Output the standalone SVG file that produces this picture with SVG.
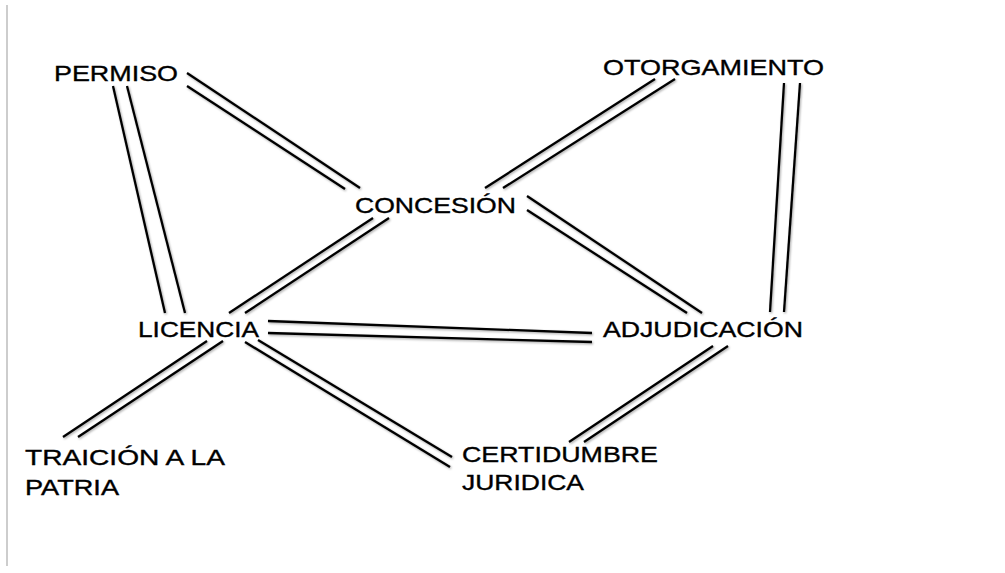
<svg xmlns="http://www.w3.org/2000/svg" width="1005" height="573" viewBox="0 0 1005 573">
<style>
.bg{fill:#ffffff}
.edge line{stroke:#000000;stroke-width:2.3;stroke-linecap:butt}
.lbl{font-family:"Liberation Sans",Arial,sans-serif;font-size:21.5px;fill:#000000;stroke:#000000;stroke-width:0.35}
</style>
<defs>
<filter id="sh" x="-10%" y="-10%" width="120%" height="120%">
<feDropShadow dx="1" dy="1.2" stdDeviation="1" flood-color="#000" flood-opacity="0.35"/>
</filter>
</defs>
<rect class="bg" x="0" y="0" width="1005" height="573"/>
<line x1="7" y1="5" x2="7" y2="566" stroke="#bdbdbd" stroke-width="1.5"/>
<g id="connectors" class="edge" filter="url(#sh)">
<line x1="113" y1="86" x2="165" y2="313"/>
<line x1="127" y1="86" x2="185" y2="313"/>
<line x1="187" y1="73" x2="360" y2="188"/>
<line x1="187" y1="86" x2="345" y2="189"/>
<line x1="655" y1="79" x2="485" y2="188"/>
<line x1="675" y1="79" x2="503" y2="188"/>
<line x1="784" y1="83" x2="770" y2="312"/>
<line x1="800" y1="83" x2="784" y2="312"/>
<line x1="373" y1="218" x2="229" y2="313"/>
<line x1="389" y1="218" x2="245" y2="313"/>
<line x1="527" y1="196" x2="702" y2="313"/>
<line x1="527" y1="210" x2="687" y2="313"/>
<line x1="268" y1="321" x2="592" y2="333"/>
<line x1="268" y1="333" x2="592" y2="342"/>
<line x1="207" y1="341" x2="63" y2="437"/>
<line x1="223" y1="341" x2="78" y2="437"/>
<line x1="245" y1="342" x2="450" y2="467"/>
<line x1="258" y1="340" x2="452" y2="457"/>
<line x1="713" y1="346" x2="569" y2="442"/>
<line x1="728" y1="346" x2="584" y2="442"/>
</g>
<g id="permiso"><text class="lbl" x="54" y="81" textLength="124" lengthAdjust="spacingAndGlyphs">PERMISO</text></g>
<g id="otorgamiento"><text class="lbl" x="603" y="75" textLength="221" lengthAdjust="spacingAndGlyphs">OTORGAMIENTO</text></g>
<g id="concesion"><text class="lbl" x="355" y="213" textLength="161" lengthAdjust="spacingAndGlyphs">CONCESIÓN</text></g>
<g id="licencia"><text class="lbl" x="138" y="337" textLength="121" lengthAdjust="spacingAndGlyphs">LICENCIA</text></g>
<g id="adjudicacion"><text class="lbl" x="603" y="337" textLength="200" lengthAdjust="spacingAndGlyphs">ADJUDICACIÓN</text></g>
<g id="traicion">
<text class="lbl" x="25" y="465" textLength="200" lengthAdjust="spacingAndGlyphs">TRAICIÓN A LA</text>
<text class="lbl" x="25" y="495" textLength="94" lengthAdjust="spacingAndGlyphs">PATRIA</text>
</g>
<g id="certidumbre">
<text class="lbl" x="462" y="462" textLength="196" lengthAdjust="spacingAndGlyphs">CERTIDUMBRE</text>
<text class="lbl" x="462" y="490" textLength="122" lengthAdjust="spacingAndGlyphs">JURIDICA</text>
</g>
</svg>
